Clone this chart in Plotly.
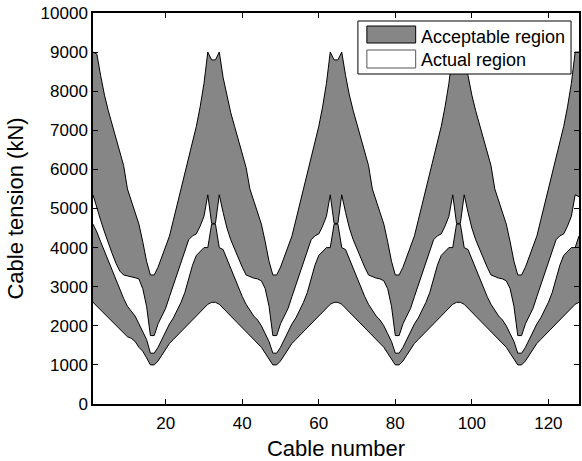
import plotly.graph_objects as go

# Cable index along the deck
cables = list(range(1, 129))

# Acceptable tension region (kN): upper and lower bounds per cable
accept_upper = [
    9000, 8950, 8400, 7900, 7500, 7150, 6800, 6450, 6100, 5500, 5200, 4900, 4600, 4150, 3650, 3300,
    3300, 3500, 3750, 4000, 4300, 4700, 5100, 5500, 5900, 6300, 6700, 7100, 7600, 8200, 9000, 8800, 8800,
    9000, 8350, 7850, 7450, 7100, 6750, 6400, 6050, 5500, 5200, 4900, 4600, 4150, 3650, 3300,
    3300, 3500, 3750, 4000, 4300, 4700, 5100, 5500, 5900, 6300, 6700, 7100, 7600, 8200, 9000, 8800, 8800,
    9000, 8400, 7900, 7500, 7150, 6800, 6450, 6100, 5500, 5200, 4900, 4600, 4150, 3650, 3300,
    3300, 3500, 3750, 4000, 4300, 4700, 5100, 5500, 5900, 6300, 6700, 7100, 7600, 8200, 9000, 8800, 8800,
    9000, 8400, 7900, 7500, 7150, 6800, 6450, 6100, 5500, 5200, 4900, 4600, 4150, 3650, 3300,
    3300, 3500, 3750, 4000, 4300, 4700, 5100, 5500, 5900, 6300, 6700, 7100, 7600, 8200, 9000, 9000,
]
accept_lower = [
    2600, 2500, 2400, 2300, 2200, 2100, 2000, 1900, 1800, 1720, 1680, 1600, 1450, 1350, 1180, 1000,
    1000, 1100, 1250, 1400, 1550, 1650, 1750, 1850, 1950, 2050, 2150, 2250, 2350, 2450, 2550, 2600, 2600,
    2550, 2450, 2350, 2250, 2150, 2050, 1950, 1850, 1750, 1650, 1550, 1450, 1300, 1150, 1000,
    1000, 1100, 1250, 1400, 1550, 1650, 1750, 1850, 1950, 2050, 2150, 2250, 2350, 2450, 2550, 2600, 2600,
    2550, 2450, 2350, 2250, 2150, 2050, 1950, 1850, 1750, 1650, 1550, 1450, 1300, 1150, 1000,
    1000, 1100, 1250, 1400, 1550, 1650, 1750, 1850, 1950, 2050, 2150, 2250, 2350, 2450, 2550, 2600, 2600,
    2550, 2450, 2350, 2250, 2150, 2050, 1950, 1850, 1750, 1650, 1550, 1450, 1300, 1150, 1000,
    1000, 1100, 1250, 1400, 1550, 1650, 1750, 1850, 1950, 2050, 2150, 2250, 2350, 2450, 2550, 2600,
]

# Actual tension region (kN): upper and lower bounds per cable
actual_upper = [
    5350, 5000, 4700, 4400, 4100, 3850, 3600, 3400, 3300, 3280, 3250, 3230, 3200, 2950, 2500, 1750,
    1750, 2050, 2250, 2450, 2750, 3050, 3350, 3650, 3950, 4200, 4300, 4350, 4550, 4800, 5350, 4620, 4620,
    5350, 4900, 4500, 4200, 3950, 3700, 3500, 3300, 3250, 3220, 3200, 3150, 2950, 2500, 1750,
    1750, 2050, 2250, 2450, 2750, 3050, 3350, 3650, 3950, 4200, 4300, 4350, 4550, 4800, 5350, 4620, 4620,
    5350, 4900, 4500, 4200, 3950, 3700, 3500, 3300, 3250, 3220, 3200, 3150, 2950, 2500, 1750,
    1750, 2050, 2250, 2450, 2750, 3050, 3350, 3650, 3950, 4200, 4300, 4350, 4550, 4800, 5350, 4620, 4620,
    5350, 4900, 4500, 4200, 3950, 3700, 3500, 3300, 3250, 3220, 3200, 3150, 2950, 2500, 1750,
    1750, 2050, 2250, 2450, 2750, 3050, 3350, 3650, 3950, 4200, 4300, 4350, 4550, 4800, 5350, 5300,
]
actual_lower = [
    4600, 4400, 4150, 3900, 3700, 3450, 3150, 2900, 2700, 2500, 2380, 2250, 2050, 1850, 1650, 1300,
    1300, 1450, 1650, 1850, 2050, 2200, 2400, 2600, 2850, 3200, 3550, 3800, 3900, 4000, 4000, 4600, 4600,
    4000, 3950, 3700, 3450, 3200, 2950, 2750, 2550, 2400, 2250, 2150, 2000, 1800, 1600, 1300,
    1300, 1450, 1650, 1850, 2050, 2200, 2400, 2600, 2850, 3200, 3550, 3800, 3900, 4000, 4000, 4600, 4600,
    4000, 3950, 3700, 3450, 3200, 2950, 2750, 2550, 2400, 2250, 2150, 2000, 1800, 1600, 1300,
    1300, 1450, 1650, 1850, 2050, 2200, 2400, 2600, 2850, 3200, 3550, 3800, 3900, 4000, 4000, 4600, 4600,
    4000, 3950, 3700, 3450, 3200, 2950, 2750, 2550, 2400, 2250, 2150, 2000, 1800, 1600, 1300,
    1300, 1450, 1650, 1850, 2050, 2200, 2400, 2600, 2850, 3200, 3550, 3800, 3900, 4000, 4000, 4300,
]

x_ticks = [20, 40, 60, 80, 100, 120]
y_ticks = list(range(0, 10001, 1000))
y_tick_text = [str(v) for v in y_ticks]

legend_labels = ["Acceptable region", "Actual region"]

FONT = "Liberation Sans, Arial, Helvetica, sans-serif"
GRAY = "#868686"
EDGE = dict(color="black", width=1)

fig = go.Figure()
fig.add_trace(go.Scatter(x=cables, y=accept_lower, mode="lines", line=EDGE,
                         hoverinfo="skip", showlegend=False))
fig.add_trace(go.Scatter(x=cables, y=accept_upper, mode="lines", line=EDGE,
                         fill="tonexty", fillcolor=GRAY, hoverinfo="skip", showlegend=False))
fig.add_trace(go.Scatter(x=cables, y=actual_lower, mode="lines", line=EDGE,
                         hoverinfo="skip", showlegend=False))
fig.add_trace(go.Scatter(x=cables, y=actual_upper, mode="lines", line=EDGE,
                         fill="tonexty", fillcolor="white", hoverinfo="skip", showlegend=False))

# Plot area geometry (pixels) used to place the hand-drawn legend
L, R, T, B = 93, 1, 13, 57
W, H = 582, 461
PW, PH = W - L - R, H - T - B


def px(xp):
    return (xp - L) / PW


def py(yp):
    return (H - B - yp) / PH


shapes = [
    dict(type="rect", xref="paper", yref="paper", x0=px(359), x1=px(573), y0=py(74), y1=py(21),
         line=dict(color="black", width=1), fillcolor="white", layer="above"),
    dict(type="rect", xref="paper", yref="paper", x0=px(368), x1=px(417), y0=py(43), y1=py(26),
         line=dict(color="black", width=1), fillcolor=GRAY, layer="above"),
    dict(type="rect", xref="paper", yref="paper", x0=px(368), x1=px(417), y0=py(68), y1=py(50),
         line=dict(color="#555555", width=1), fillcolor="white", layer="above"),
]
annotations = [
    dict(xref="paper", yref="paper", x=px(420), y=py(37), xanchor="left", yanchor="middle",
         text=legend_labels[0], showarrow=False, font=dict(family=FONT, size=18, color="black")),
    dict(xref="paper", yref="paper", x=px(420), y=py(60), xanchor="left", yanchor="middle",
         text=legend_labels[1], showarrow=False, font=dict(family=FONT, size=18, color="black")),
]

axis_common = dict(showline=True, linecolor="black", linewidth=1.5, mirror="ticks",
                   ticks="inside", ticklen=5, tickwidth=1, tickcolor="black",
                   showgrid=False, zeroline=False,
                   tickfont=dict(family=FONT, size=17, color="black"))

fig.update_layout(
    width=W, height=H,
    margin=dict(l=L, r=R, t=T, b=B, pad=0),
    paper_bgcolor="white", plot_bgcolor="white",
    font=dict(family=FONT, color="black"),
    shapes=shapes, annotations=annotations,
    xaxis=dict(range=[1, 128], tickvals=x_ticks, ticklabelstandoff=3,
               title=dict(text="Cable number", font=dict(family=FONT, size=22), standoff=8),
               **axis_common),
    yaxis=dict(range=[0, 10000], tickvals=y_ticks, ticktext=y_tick_text,
               title=dict(text="Cable tension (kN)", font=dict(family=FONT, size=22), standoff=11),
               **axis_common),
)

fig.write_html("out.html")
